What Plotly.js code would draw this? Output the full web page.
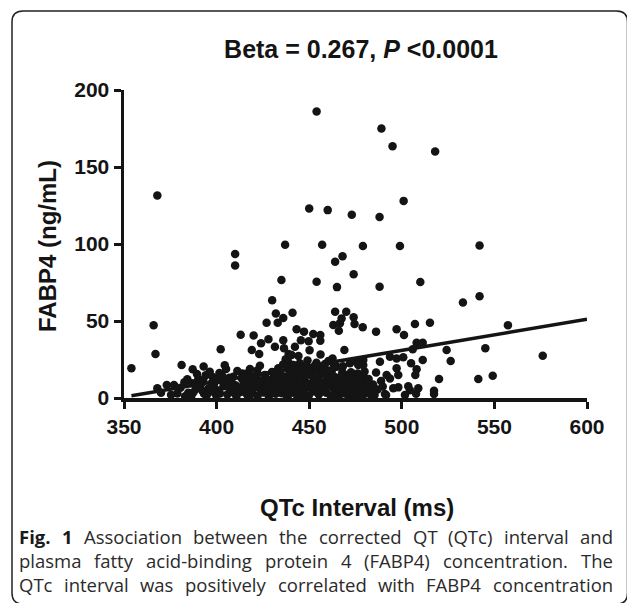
<!DOCTYPE html>
<html>
<head>
<meta charset="utf-8">
<script src="https://cdn.plot.ly/plotly-3.0.1.min.js"></script>
<style>
html,body{margin:0;padding:0;background:#fff;}
#chart{width:627px;height:603px;}
</style>
</head>
<body>
<div id="chart"></div>
<script>
// QTc interval (ms) for each subject
const qtc = [
454,489,495,518,368,501,450,460,473,488,
410,437,457,479,499,542,468,464,410,435,
454,474,465,488,510,533,542,430,432,441,
436,433,427,464,470,463,467.5,466,474,474.5,
466.6,366,367,354,413,420,424,428,419,423,
431.5,436,436.4,442.3,443.2,447.2,452.2,456,456,445.5,
449.7,450.2,438.9,437.3,444.2,423.4,418,402.2,405.1,381.1,
387.1,384.2,390.1,397.9,368,373.1,377,378.8,370,384.7,
463.9,469,469.3,475.6,455.8,461.2,478.9,486.1,497.2,501.2,
507.1,515.2,508,511.3,505.9,524.2,545.1,526.4,511.3,576.1,
557.3,549.1,541.3,520.1,517.4,517.4,508.9,503.5,504.4,498.1,
495.4,490.9,507.7,493.6,497.2,500.8,488.2,505,508,507.3,
497.2,498.1,491.8,493.6,486.1,501.7,491.5,481,481.9,479.2,
479.2,479.2,476.5,463,464.8,472,474.7,477.4,479.2,472,
473.8,477.4,479.2,462.1,464.8,467.5,469.3,463.9,472.9,438.7,
440.5,445,448.6,453.1,457.6,462.1,426.1,429.7,433.3,392.8,
409,413.5,418,475.2,476.5,
386.3,388.9,391.5,393.2,395.6,397.4,399.8,400.9,402.6,403.7,
405.8,407.2,408.4,410.7,411.9,413.1,414.6,415.8,416.5,417.3,
419.2,420.6,421.4,422.1,423.5,424.7,425.3,426.9,428.2,428.8,
430.3,431.1,431.9,432.6,433.7,434.5,435.2,436.3,437.1,437.9,
438.6,439.4,440.2,441.3,442,442.8,443.6,444.3,445.1,446,
446.8,447.5,448.3,449.1,449.8,450.6,451.3,452,452.9,453.6,
454.4,455.2,456.1,456.9,457.7,458.5,459.2,460.1,460.9,461.7,
462.6,463.4,465.6,466.4,467.9,468.7,470.5,471.3,473.1,474.6,
476.2,477.9,480.4,482.7,484.5,486.9,488.8,489.7,
375.4,380.5,382.6,386.8,389.4,394.1,396.3,401.5,406.9,411.2,
404.4,393,383,
387.5,390.2,392.4,394.7,396.8,398.6,400.3,399.1,
401.8,403.1,404.6,406.3,407.9,409.5,410.2,412.4,413.8,415.1,
416.9,418.6,419.7,420.2,421.9,
422.8,424.1,425.8,426.4,427.6,429.1,429.9,430.8,432.2,433.1,
434.8,435.9,436.7,437.6,438.4,439.1,440.7,441.6,442.5,
443.2,444.8,445.6,446.5,447.2,448.1,449.4,450.2,451.8,452.5,
453.9,454.8,455.5,456.6,457.3,458.9,459.6,460.4,461.3,462.2,
463.8,464.2,465.1,466.9,467.3,468.2,469.8,470.9,471.8,472.6,
473.5,475.7,476.9,478.4,479.9,480.8,482.1,483.6,485.3
];
// FABP4 concentration (ng/mL) for each subject
const fabp4 = [
186,175,163.5,160,131.5,128,123,122,119,117.5,
93.5,99.5,99.5,98.7,98.7,99,92,88.5,86,76.6,
75.5,80.3,72,72.3,75.3,62,66,63.4,54.8,55.4,
52,48.9,48.9,56,56,47.4,51.7,43.7,52.5,48,
48.5,47.2,28.6,19.3,41,40.6,35.5,38.1,31.2,28.6,
33.3,37.5,32.3,33.3,44.6,43.1,41.6,40.9,37.2,37.5,
36.9,31,28.6,25.1,27.3,21,18.8,31.6,18.8,21.4,
18.6,12.1,12.1,13.6,6.3,8.4,8.4,3,3.4,3.4,
21.4,31.2,14.9,23.6,19.3,13.8,45.9,43.1,44.6,40.9,
48.1,48.9,35.9,35.9,31.6,31.2,32.3,24,24.7,27.5,
47.2,14.5,12.3,12.3,4.7,2.6,6.3,7.6,5,6.9,
6.3,2.6,2.8,26.8,25.7,26.4,23.6,22.5,18.6,14.9,
19.3,14.9,14.9,12.6,16.5,1.9,1.9,10.6,6.3,14.3,
24.7,21.4,21.4,22.5,20.3,22.5,11.7,12.8,9.5,7.3,
4.1,5.2,1.9,11.7,7.3,10.6,3,3,0.5,23.6,
27.9,22.5,20.3,18.2,16,14.9,14.9,11.7,19.3,11.7,
13.8,12.8,11.7,1,10.6,
1.2,5.8,8.9,2.7,6.1,9.8,1.6,4.9,11.4,7.6,
2.3,5.5,9.1,1.1,6.8,3.9,9.9,15.7,2.1,7.1,
4.4,9.4,13.5,1.3,6.2,11.2,3.5,8.1,0.9,5.4,
9.6,14.2,2.8,17.4,6.6,11,3.1,8.7,13.8,1.4,
5.9,17.2,10.3,3.6,7.8,13.1,0.8,5.2,9.7,16.3,
2.5,12.2,6.9,24.3,1.7,9.2,14.6,4.3,20.8,7.5,
11.9,2.2,28.2,6.3,10.1,22.1,3.4,8.1,17.8,1.2,
25.6,5.6,12.9,2.1,16.8,6.4,9.3,1.5,12.8,6.8,
15.9,8.1,4.1,2.6,8.8,5.5,11.1,7.4,
2.1,6.7,10.3,9.5,15.6,14.8,17.1,16.2,13.2,17.5,
21.2,20.4,1.1,
3.8,7.2,4.6,1.8,4.2,7.1,12.9,10.4,
2.9,14.3,9.6,7.4,11.8,3.2,8.3,4.9,15.9,6.2,
11,2.6,14.2,6.5,17.8,
9.8,3.9,14.6,6.9,11.8,3.3,16.9,7.1,10.6,4.6,
15.1,21.7,6.1,10.1,19.5,2.4,13.9,21.4,4.9,
16.6,11.6,6.6,19.4,3.7,14.9,8.4,17.5,5.9,12.7,
22.9,3.1,14.4,8.9,19.9,5.3,12.1,24.1,9.4,17.7,
13.7,1.6,9.8,5.1,14.1,20.6,8.6,12.4,3.6,16.7,
9.1,4.4,13.5,2.9,17.2,8.2,12.4,5.1,1.9
];
// Regression line end points (QTc, FABP4)
const fitX = [354, 600];
const fitY = [1.5, 51.1];
// Axis ticks
const xTicks = [350, 400, 450, 500, 550, 600];
const yTicks = [0, 50, 100, 150, 200];
// Caption text (first two words bold)
const captionLines = [
  'Fig. 1 Association between the corrected QT (QTc) interval and',
  'plasma fatty acid-binding protein 4 (FABP4) concentration. The',
  'QTc interval was positively correlated with FABP4 concentration'
];

const W = 627, H = 603;
const M = {l: 124, r: 40, t: 90, b: 205};
const PW = W - M.l - M.r, PH = H - M.t - M.b;
const px = x => (x - M.l) / PW;      // pixel -> paper x
const py = y => (M.t + PH - y) / PH; // pixel -> paper y

function framePath(x0, y0, x1, y1, r) {
  return 'M' + px(x0) + ',' + py(y0 + r) +
    ' Q' + px(x0) + ',' + py(y0) + ' ' + px(x0 + r) + ',' + py(y0) +
    ' L' + px(x1 - r) + ',' + py(y0) +
    ' Q' + px(x1) + ',' + py(y0) + ' ' + px(x1) + ',' + py(y0 + r) +
    ' L' + px(x1) + ',' + py(y1 - r) +
    ' Q' + px(x1) + ',' + py(y1) + ' ' + px(x1 - r) + ',' + py(y1) +
    ' L' + px(x0 + r) + ',' + py(y1) +
    ' Q' + px(x0) + ',' + py(y1) + ' ' + px(x0) + ',' + py(y1 - r) + ' Z';
}

const ink = '#141414';
const sansBold = 'Liberation Sans, Arial, sans-serif';
const bold = {family: sansBold, size: 21, color: ink, weight: 700};
const capFamily = 'Open Sans';
const capSize = 18.5;
const capColor = '#2a2a2a';

const traces = [
  {
    x: qtc, y: fabp4, type: 'scatter', mode: 'markers',
    marker: {color: ink, size: 8.5, line: {width: 0}},
    cliponaxis: false, hoverinfo: 'x+y'
  },
  {
    x: fitX, y: fitY, type: 'scatter', mode: 'lines',
    line: {color: ink, width: 3.5}, cliponaxis: false, hoverinfo: 'skip'
  }
];

const annotations = [
  {text: '<b>FABP4 (ng/mL)</b>', xref: 'paper', yref: 'paper', x: px(47), y: py(246),
   xanchor: 'center', yanchor: 'middle', textangle: -90, showarrow: false,
   font: {family: sansBold, size: 24, color: ink}},
  {text: '<b>QTc Interval (ms)</b>', xref: 'paper', yref: 'paper', x: px(357), y: py(507),
   xanchor: 'center', yanchor: 'middle', showarrow: false,
   font: {family: sansBold, size: 24, color: ink}}
];

// justified caption: each word placed separately
const ctx = document.createElement('canvas').getContext('2d');
function wordWidth(w, isBold) {
  ctx.font = (isBold ? '700 ' : '400 ') + capSize + 'px "' + capFamily + '"';
  return ctx.measureText(w).width;
}
const capLeft = 18, capRight = 612;
const capMid = [536.5, 560.5, 584.5];
captionLines.forEach((line, li) => {
  const words = line.split(' ');
  const isB = words.map((w, wi) => li === 0 && wi < 2);
  const widths = words.map((w, wi) => wordWidth(w, isB[wi]));
  const total = widths.reduce((a, b) => a + b, 0);
  const gap = (capRight - capLeft - total) / (words.length - 1);
  let x = capLeft;
  words.forEach((w, wi) => {
    annotations.push({
      text: isB[wi] ? '<b>' + w + '</b>' : w,
      xref: 'paper', yref: 'paper', x: px(x - 1), y: py(capMid[li]),
      xanchor: 'left', yanchor: 'middle', showarrow: false,
      font: {family: capFamily, size: capSize, color: isB[wi] ? '#1a1a1a' : capColor}
    });
    x += widths[wi] + gap;
  });
});

const layout = {
  width: W, height: H, margin: M,
  paper_bgcolor: '#fff', plot_bgcolor: '#fff',
  showlegend: false,
  title: {
    text: '<b>Beta = 0.267, <i>P</i> &lt;0.0001</b>',
    x: 361 / W, xref: 'container', xanchor: 'center',
    y: 1 - 49 / H, yref: 'container', yanchor: 'middle',
    font: {family: sansBold, size: 25, color: ink}
  },
  xaxis: {
    range: [350, 600], tickvals: xTicks, ticktext: xTicks.map(String),
    showline: true, linewidth: 3.5, linecolor: ink,
    ticks: 'outside', ticklen: 7, tickwidth: 3, tickcolor: ink,
    showgrid: false, zeroline: false, tickfont: bold, fixedrange: true
  },
  yaxis: {
    range: [0, 200], tickvals: yTicks, ticktext: yTicks.map(String),
    showline: true, linewidth: 3.5, linecolor: ink,
    ticks: 'outside', ticklen: 7, tickwidth: 3, tickcolor: ink,
    showgrid: false, zeroline: false, tickfont: bold, fixedrange: true
  },
  shapes: [{
    type: 'path', xref: 'paper', yref: 'paper', layer: 'below',
    path: framePath(12, 11, 627.5, 604, 11),
    line: {color: '#222', width: 1.5}, fillcolor: 'rgba(0,0,0,0)'
  }],
  annotations: annotations
};

Plotly.newPlot('chart', traces, layout, {displayModeBar: false, staticPlot: true});
</script>
</body>
</html>
